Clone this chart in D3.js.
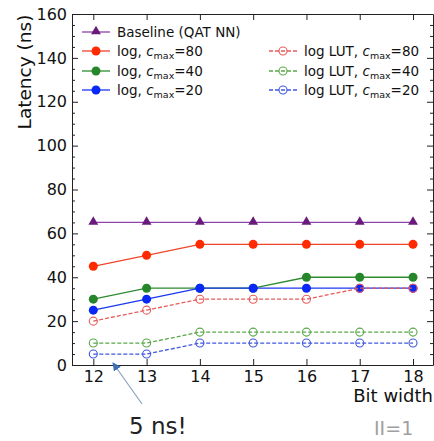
<!DOCTYPE html>
<html>
<head>
<meta charset="utf-8">
<script src="https://cdn.jsdelivr.net/npm/d3@7"></script>
<style>
  body { margin: 0; background: #fff; }
  text { font-family: "DejaVu Sans", sans-serif; }
</style>
</head>
<body>
<svg id="chart"></svg>
<script>
// data
var bitWidths = [12, 13, 14, 15, 16, 17, 18];
var baseline = [65, 65, 65, 65, 65, 65, 65];
var log80 = [45, 50, 55, 55, 55, 55, 55];
var log40 = [30, 35, 35, 35, 40, 40, 40];
var log20 = [25, 30, 35, 35, 35, 35, 35];
var lut80 = [20, 25, 30, 30, 30, 35, 35];
var lut40 = [10, 10, 15, 15, 15, 15, 15];
var lut20 = [5, 5, 10, 10, 10, 10, 10];
var yTicks = [0, 20, 40, 60, 80, 100, 120, 140, 160];

var width = 434, height = 441;
var svg = d3.select("#chart").attr("width", width).attr("height", height);

// scales
var x = d3.scaleLinear().domain([11.6, 18.375]).range([72, 433]);
var y = d3.scaleLinear().domain([0, 160]).range([365, 14]);

// series
var series = [
  { name: "Baseline (QAT NN)", cmax: null, lut: false, values: baseline, color: "#8e44ad", mcolor: "#6a1b7a", marker: "tri" },
  { name: "log, ", cmax: "80", lut: false, values: log80, color: "#f0452a", mcolor: "#ff2a00", marker: "dot" },
  { name: "log, ", cmax: "40", lut: false, values: log40, color: "#2e8b2e", mcolor: "#26862a", marker: "dot" },
  { name: "log, ", cmax: "20", lut: false, values: log20, color: "#1838f0", mcolor: "#0a28f5", marker: "dot" },
  { name: "log LUT, ", cmax: "80", lut: true, values: lut80, color: "#e85a5a", mcolor: "#e85a5a", marker: "open" },
  { name: "log LUT, ", cmax: "40", lut: true, values: lut40, color: "#5aa84a", mcolor: "#5aa84a", marker: "open" },
  { name: "log LUT, ", cmax: "20", lut: true, values: lut20, color: "#4058e0", mcolor: "#4058e0", marker: "open" }
];

// axes (ticks pointing inward)
svg.append("g")
  .attr("transform", "translate(0,365)")
  .call(d3.axisBottom(x).tickValues(bitWidths).tickFormat(d3.format("d")).tickSize(-6).tickSizeOuter(0).tickPadding(6))
  .call(function(g) { g.selectAll("text").attr("font-size", 16).attr("fill", "#111").attr("font-family", "DejaVu Sans"); });

svg.append("g")
  .attr("transform", "translate(0,14)")
  .call(d3.axisTop(x).tickValues(bitWidths).tickSize(-6).tickSizeOuter(0).tickFormat(""));

svg.append("g")
  .attr("transform", "translate(72,0)")
  .call(d3.axisLeft(y).tickValues(yTicks).tickSize(-6).tickSizeOuter(0).tickPadding(5))
  .call(function(g) { g.selectAll("text").attr("font-size", 16).attr("fill", "#111").attr("font-family", "DejaVu Sans"); });

svg.append("g")
  .attr("transform", "translate(433,0)")
  .call(d3.axisRight(y).tickValues(yTicks).tickSize(-6).tickSizeOuter(0).tickFormat(""));

// minor y ticks every 5
var minor = d3.range(0, 161, 5).filter(function(d) { return d % 20 !== 0; });
svg.append("g")
  .attr("transform", "translate(72,0)")
  .call(d3.axisLeft(y).tickValues(minor).tickSize(-3).tickFormat(""))
  .select(".domain").remove();
svg.append("g")
  .attr("transform", "translate(433,0)")
  .call(d3.axisRight(y).tickValues(minor).tickSize(-3).tickFormat(""))
  .select(".domain").remove();

svg.selectAll(".domain, .tick line").attr("stroke", "#222");

// axis labels
svg.append("text")
  .attr("transform", "translate(31,72) rotate(-90)")
  .attr("text-anchor", "middle")
  .attr("font-size", 18.5)
  .attr("fill", "#111")
  .text("Latency (ns)");

svg.append("text")
  .attr("x", 433).attr("y", 402)
  .attr("text-anchor", "end")
  .attr("font-size", 18)
  .attr("fill", "#111")
  .text("Bit width");

// lines and markers
var line = d3.line()
  .x(function(d, i) { return x(bitWidths[i]); })
  .y(function(d) { return y(d); });

function drawMarker(g, s, cx, cy) {
  if (s.marker === "tri") {
    g.append("path")
      .attr("d", d3.symbol().type(d3.symbolTriangle).size(42)())
      .attr("transform", "translate(" + cx + "," + (cy - 0.5) + ")")
      .attr("fill", s.mcolor);
  } else if (s.marker === "dot") {
    g.append("circle").attr("cx", cx).attr("cy", cy).attr("r", 4.5).attr("fill", s.mcolor);
  } else {
    g.append("circle").attr("cx", cx).attr("cy", cy).attr("r", 4)
      .attr("fill", "none").attr("stroke", s.mcolor).attr("stroke-width", 1.1);
  }
}

series.forEach(function(s) {
  var g = svg.append("g");
  g.append("path")
    .datum(s.values)
    .attr("d", line)
    .attr("fill", "none")
    .attr("stroke", s.color)
    .attr("stroke-width", 1.3)
    .attr("stroke-dasharray", s.lut ? "4,2" : null);
  s.values.forEach(function(v, i) { drawMarker(g, s, x(bitWidths[i]), y(v)); });
});

// legend
var legendRows = [32, 51, 71, 90];
function legendEntry(s, lx, ly) {
  var g = svg.append("g");
  g.append("line")
    .attr("x1", lx).attr("x2", lx + 28).attr("y1", ly).attr("y2", ly)
    .attr("stroke", s.color).attr("stroke-width", 1.3)
    .attr("stroke-dasharray", s.lut ? "4,2" : null);
  drawMarker(g, s, lx + 14, ly);
  var t = g.append("text")
    .attr("x", lx + 35).attr("y", ly + 5)
    .attr("font-size", 13.5)
    .attr("fill", "#111");
  t.append("tspan").text(s.name);
  if (s.cmax) {
    t.append("tspan").attr("font-style", "italic").text("c");
    t.append("tspan").attr("font-size", 9.5).attr("dy", 2.5).text("max");
    t.append("tspan").attr("dy", -2.5).text("=" + s.cmax);
  }
}
series.slice(0, 4).forEach(function(s, i) { legendEntry(s, 82, legendRows[i]); });
series.slice(4).forEach(function(s, i) { legendEntry(s, 269, legendRows[i + 1]); });

// annotations
svg.append("defs").append("marker")
  .attr("id", "head")
  .attr("viewBox", "0 0 10 10")
  .attr("refX", 9).attr("refY", 5)
  .attr("markerWidth", 7).attr("markerHeight", 7)
  .attr("orient", "auto")
  .append("path")
  .attr("d", "M0,0 L10,5 L0,10 z")
  .attr("fill", "#3f6db5");

svg.append("line")
  .attr("x1", 142).attr("y1", 404)
  .attr("x2", 113).attr("y2", 363)
  .attr("stroke", "#8aa2c0").attr("stroke-width", 1.2)
  .attr("marker-end", "url(#head)");

svg.append("text")
  .attr("x", 129).attr("y", 434)
  .attr("font-family", "Lato, sans-serif")
  .attr("font-size", 23)
  .attr("fill", "#222")
  .text("5 ns!");

svg.append("text")
  .attr("x", 374).attr("y", 435)
  .attr("font-family", "Lato, sans-serif")
  .attr("font-size", 19)
  .attr("fill", "#a0a0a0")
  .text("II=1");
</script>
</body>
</html>
